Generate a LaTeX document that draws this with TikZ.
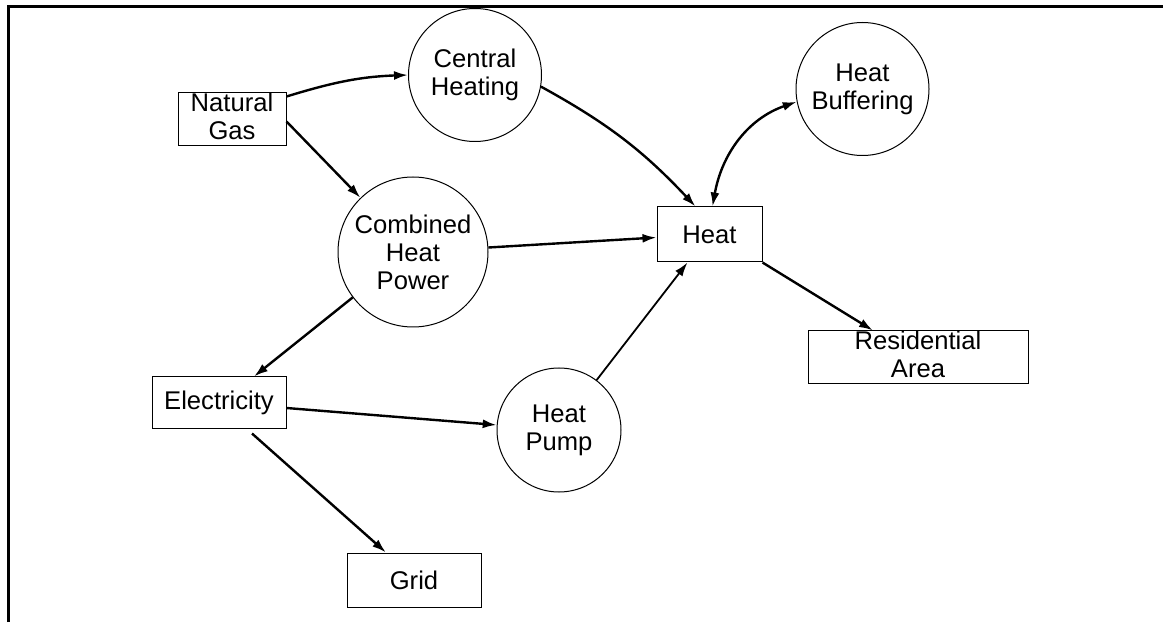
\documentclass[tikz,border=0pt]{standalone}
\usepackage{fontspec}
\setmainfont{Liberation Sans}
\usetikzlibrary{arrows.meta,calc}

\begin{document}
\begin{tikzpicture}[x=0.5pt,y=0.5pt,
            >={Latex[length=7pt,width=4.5pt]},
            every node/.style={font=\fontsize{12.8}{14}\selectfont, align=center, inner sep=0pt},
            block/.style={draw, line width=0.5pt, rectangle},
            twoline/.style={text depth=3pt},
            unit/.style={draw, line width=0.5pt, circle},
            flow/.style={->, line width=1.2pt},
            thinflow/.style={->, line width=0.9pt}]
            \useasboundingbox (0,0) rectangle (1163,622);
            \draw[line width=1.65pt] (8.3,0) -- (8.3,615.7) -- (1163,615.7);

            \node[block, twoline, minimum width=54pt, minimum height=26.5pt] (ng) at (232,502.5) {Natural\\Gas};
            \node[unit, minimum size=66.5pt] (ch) at (475,547) {Central\\Heating};
            \node[unit, minimum size=75pt] (chp) at (413,370) {Combined\\Heat\\Power};
            \node[block, minimum width=52.5pt, minimum height=27.5pt] (heat) at (709.5,387.5) {Heat};
            \node[unit, minimum size=66.5pt] (hb) at (862.5,533) {Heat\\Buffering};
            \node[block, minimum width=67pt, minimum height=26pt] (elec) at (219,219) {Electricity};
            \node[unit, minimum size=62pt] (hp) at (559,192) {Heat\\Pump};
            \node[block, twoline, minimum width=110pt, minimum height=26.5pt] (res) at (918,264.5) {Residential\\Area};
            \node[block, minimum width=67pt, minimum height=27pt] (grid) at (414,42) {Grid};

            \draw[flow] ($(ng.north east)+(0,-4)$) to[out=17, in=182] (ch.west);
            \draw[flow] ($(ng.east)+(0,-2)$) -- (chp);
            \draw[flow] (ch.-10) to[bend left=9] ($(heat.north)+(-14,0)$);
            \draw[<->, line width=1.2pt] ($(heat.north)+(3,0)$) to[out=80, in=199] (hb.191);
            \draw[flow] (chp) -- ($(heat.west)+(0,-3)$);
            \draw[flow] (chp.217) -- ($(elec.north)+(35,0)$);
            \draw[flow] ($(elec.east)+(0,-5)$) -- (hp);
            \draw[thinflow] (hp.53) -- ($(heat.south)+(-22,0)$);
            \draw[flow] ($(elec.south)+(33,-4)$) -- ($(grid.north)+(-28,0)$);
            \draw[flow] (heat.south east) -- ($(res.north)+(-45,0)$);
        \end{tikzpicture}
\end{document}
